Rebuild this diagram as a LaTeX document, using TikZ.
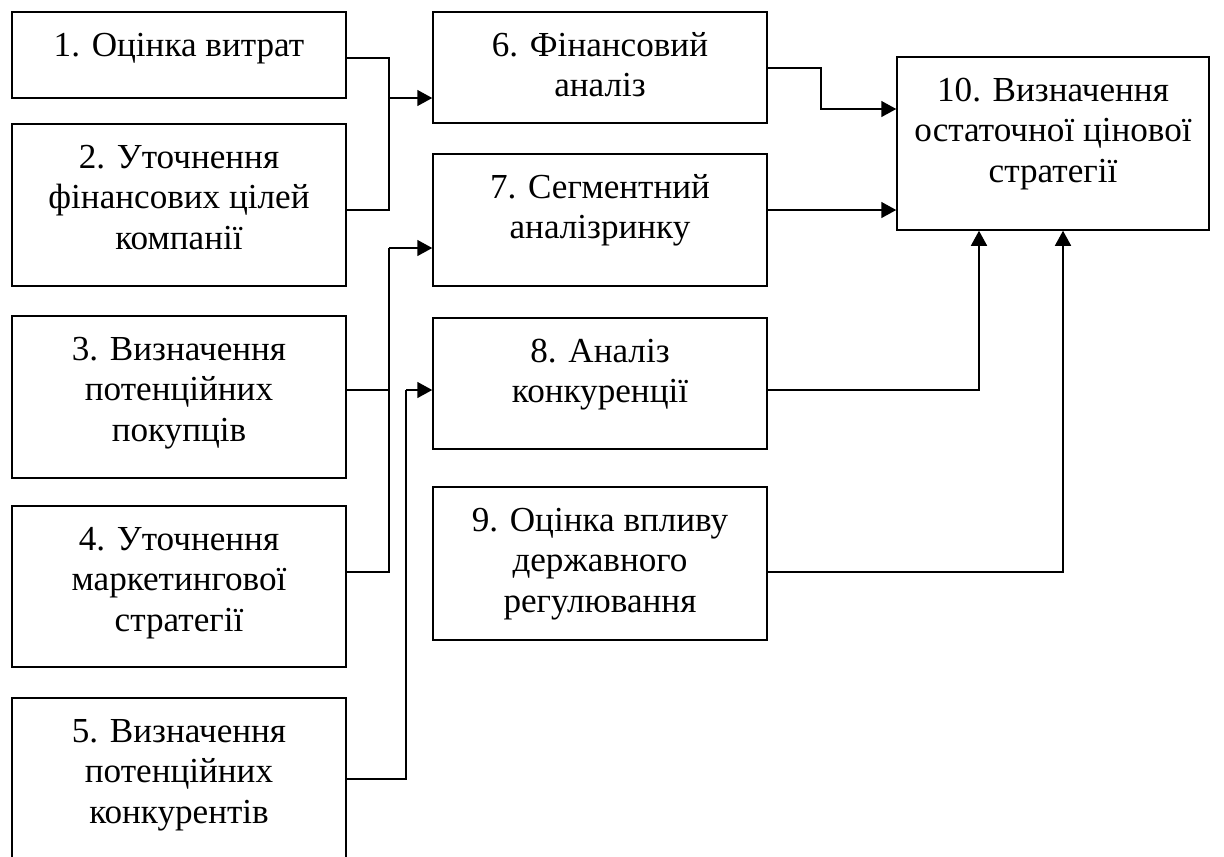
\documentclass[tikz,border=0pt]{standalone}
\usepackage{fontspec}
\setmainfont{Liberation Serif}
\usetikzlibrary{arrows.meta}

\newcommand{\blocktext}[3]{\parbox[c][#2][t]{#1}{\centering\vspace*{9.4pt}\strut #3\par}}

\begin{document}
\begin{tikzpicture}[
      x=0.02cm, y=-0.02cm,
      font=\fontsize{20}{22.9}\selectfont,
      blk/.style={draw, line width=0.9pt, inner sep=0pt},
      wire/.style={line width=0.9pt},
      arr/.style={wire, -{Triangle[length=0.3cm, width=0.32cm]}}
    ]
      \useasboundingbox (0,0) rectangle (1224,856);
      \clip (0,0) rectangle (1224,856);

      % left column
      \node[blk] (b1) at (179,55) {\blocktext{6.68cm}{1.72cm}{1. Оцінка витрат}};
      \node[blk] (b2) at (179,205) {\blocktext{6.68cm}{3.24cm}{2. Уточнення\\фінансових цілей\\компанії}};
      \node[blk] (b3) at (179,397) {\blocktext{6.68cm}{3.24cm}{3. Визначення\\потенційних\\покупців}};
      \node[blk] (b4) at (179,586.5) {\blocktext{6.68cm}{3.22cm}{4. Уточнення\\маркетингової\\стратегії}};
      \node[blk] (b5) at (179,780) {\blocktext{6.68cm}{3.28cm}{5. Визначення\\потенційних\\конкурентів}};

      % middle column
      \node[blk] (b6) at (600,67.5) {\blocktext{6.68cm}{2.22cm}{6. Фінансовий\\аналіз}};
      \node[blk] (b7) at (600,220) {\blocktext{6.68cm}{2.64cm}{7. Сегментний\\аналізринку}};
      \node[blk] (b8) at (600,383.5) {\blocktext{6.68cm}{2.62cm}{8. Аналіз\\конкуренції}};
      \node[blk] (b9) at (600,563.5) {\blocktext{6.68cm}{3.06cm}{9. Оцінка впливу\\державного\\регулювання}};

      \node[blk] (b10) at (1053,143.5) {\blocktext{6.24cm}{3.46cm}{10. Визначення\\остаточної цінової\\стратегії}};

      % junctions
      \coordinate (k1) at (389,58);
      \coordinate (k2) at (389,210);
      \coordinate (k6) at (389,98);
      \coordinate (k3) at (389,390);
      \coordinate (k4) at (389,572);
      \coordinate (k7) at (389,248);
      \coordinate (k5) at (406,779);
      \coordinate (k8) at (406,390);
      \coordinate (m6) at (821,68);
      \coordinate (m10) at (821,109);
      \coordinate (m7) at (821,210);
      \coordinate (m8) at (979,390);
      \coordinate (m9) at (1063,572);

      \draw[wire] (k1 -| b1.east) -- (k1) -- (k2) -- (k2 -| b2.east);
      \draw[arr] (k6) -- (k6 -| b6.west);

      \draw[wire] (k3 -| b3.east) -- (k3);
      \draw[wire] (k4 -| b4.east) -- (k4) -- (k7);
      \draw[arr] (k7) -- (k7 -| b7.west);

      \draw[wire] (k5 -| b5.east) -- (k5) -- (k8);
      \draw[arr] (k8) -- (k8 -| b8.west);

      \draw[arr] (m6 -| b6.east) -- (m6) -- (m10) -- (m10 -| b10.west);
      \draw[arr] (m7 -| b7.east) -- (m7 -| b10.west);
      \draw[arr] (m8 -| b8.east) -- (m8) -- (m8 |- b10.south);
      \draw[arr] (m9 -| b9.east) -- (m9) -- (m9 |- b10.south);
    \end{tikzpicture}
\end{document}
